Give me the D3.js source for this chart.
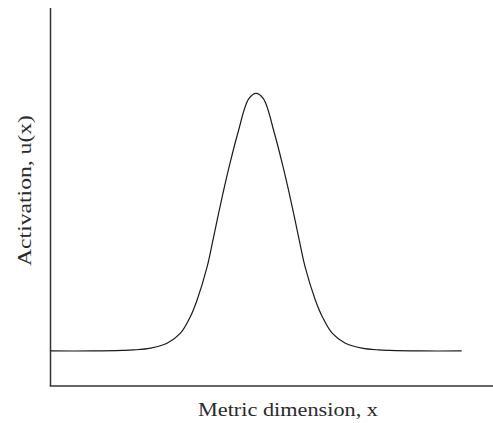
<!DOCTYPE html>
<html>
<head>
<meta charset="utf-8">
<script src="https://cdn.jsdelivr.net/npm/d3@7"></script>
<style>
  body { margin: 0; background: #fff; }
  .axis-text { font-family: "Liberation Serif", "Times New Roman", serif; font-size: 18px; fill: #2a2a2a; }
</style>
</head>
<body>
<div id="chart"></div>
<script>
  var svgWidth = 493;
  var svgHeight = 423;

  // positions along the metric dimension
  var positions = [-10, -8, -6.5, -5.95, -5.14, -4.33, -3.68, -3.20, -2.87, -2.38, -2.06, -1.70, -1.31, -0.89, -0.36, 0,
                   0.36, 0.89, 1.31, 1.70, 2.06, 2.38, 2.88, 3.22, 3.70, 4.34, 5.15, 5.95, 6.5, 8, 10];
  // activation u(x) at those positions
  var activation = [-2, -2, -1.98, -1.96, -1.89, -1.70, -1.31, -0.67, -0.02, 1.27, 2.45, 3.80, 5.15, 6.45, 7.78, 8,
                    7.78, 6.45, 5.15, 3.80, 2.45, 1.27, -0.02, -0.67, -1.31, -1.70, -1.89, -1.96, -1.98, -2, -2];

  var xLabel = "Metric dimension, x";
  var yLabel = "Activation, u(x)";

  var margin = { top: 8, right: 0, bottom: 37, left: 50.5 };
  var height = svgHeight - margin.top - margin.bottom;

  var svg = d3.select("#chart")
    .append("svg")
    .attr("width", svgWidth)
    .attr("height", svgHeight);

  var curveData = positions.map(function(p, i) {
    return { x: p, u: activation[i] };
  });

  // curve spans -10..10, the axis line runs on to the right edge
  var xScale = d3.scaleLinear()
    .domain([-10, 10])
    .range([margin.left, 461.7]);

  var yScale = d3.scaleLinear()
    .domain([-3.36, 11.31])
    .range([margin.top + height, margin.top]);

  // plain axes, no ticks
  svg.append("line")
    .attr("x1", margin.left).attr("x2", margin.left)
    .attr("y1", margin.top).attr("y2", margin.top + height)
    .attr("stroke", "#333").attr("stroke-width", 1.5);

  svg.append("line")
    .attr("x1", margin.left - 0.75).attr("x2", svgWidth)
    .attr("y1", margin.top + height).attr("y2", margin.top + height)
    .attr("stroke", "#333").attr("stroke-width", 1.5);

  var line = d3.line()
    .x(d => xScale(d.x))
    .y(d => yScale(d.u))
    .curve(d3.curveCatmullRom.alpha(0.5));

  svg.append("path")
    .datum(curveData)
    .attr("d", line)
    .attr("fill", "none")
    .attr("stroke", "#1a1a1a")
    .attr("stroke-width", 1.2);

  // axis labels (Computer Modern look: stretch to the reference width)
  svg.append("text")
    .attr("class", "axis-text")
    .attr("x", 288)
    .attr("y", 416)
    .attr("text-anchor", "middle")
    .attr("textLength", 180)
    .attr("lengthAdjust", "spacingAndGlyphs")
    .text(xLabel);

  svg.append("text")
    .attr("class", "axis-text")
    .attr("transform", "translate(31, 190.5) rotate(-90)")
    .attr("text-anchor", "middle")
    .attr("textLength", 151)
    .attr("lengthAdjust", "spacingAndGlyphs")
    .text(yLabel);
</script>
</body>
</html>
